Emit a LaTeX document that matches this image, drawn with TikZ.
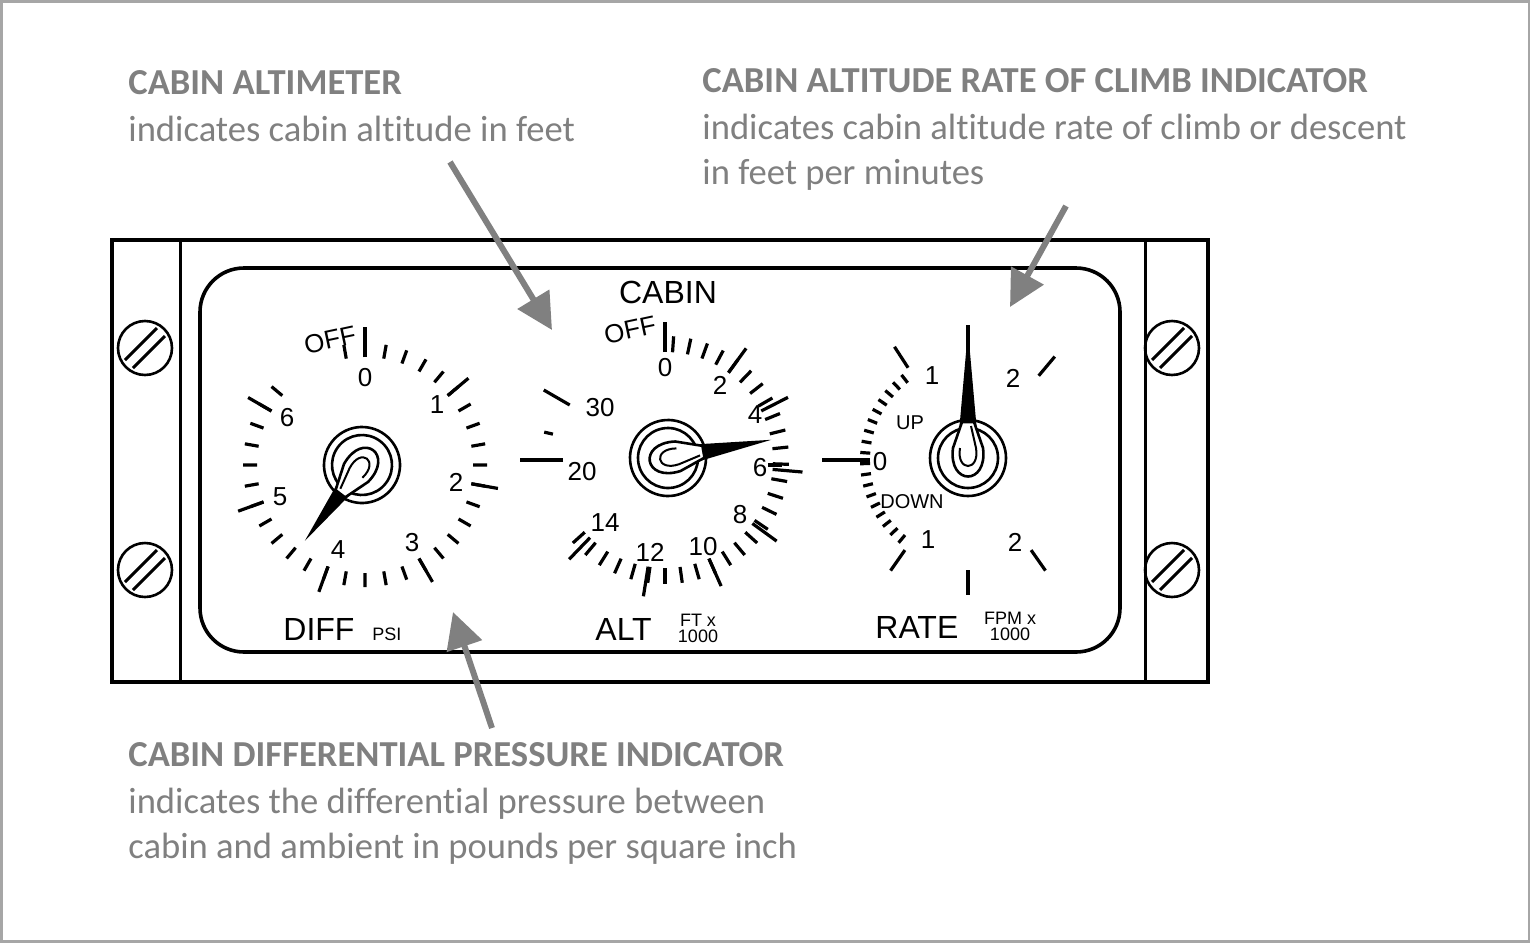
\documentclass[tikz,border=0pt]{standalone}
\usepackage{fontspec}
\setmainfont[Ligatures={NoCommon}]{Carlito}
\newfontfamily\dialfont{Liberation Sans}
\usetikzlibrary{arrows.meta}
\definecolor{notegray}{RGB}{128,128,128}
\tikzset{
  dialline/.style={line width=1.3pt},
  tick/.style={line width=1.6pt},
  numlab/.style={font=\dialfont\fontsize{13}{13}\selectfont,inner sep=0pt},
  biglab/.style={font=\dialfont\fontsize{16}{16}\selectfont,inner sep=0pt},
  smalllab/.style={font=\dialfont\fontsize{9}{9}\selectfont,inner sep=0pt,align=center},
  notehead/.style={anchor=north west,text=notegray,font=\bfseries\fontsize{18.3}{22}\selectfont,inner sep=0pt},
  notebody/.style={anchor=north west,text=notegray,font=\fontsize{18.3}{22.5}\selectfont,inner sep=0pt,align=left},
  callout/.style={draw=notegray,line width=3pt,-{Triangle[length=18pt,width=18pt]}}
}
\newcommand{\dialknob}[4]{%
  \begin{scope}[shift={(#1,#2)},rotate=#3]
    \draw[dialline,fill=white] (0,0) circle (38);
    \draw[dialline] (0,0) circle (30);
    \fill (26,-9) -- (#4,0) -- (26,9) -- cycle;
    \draw[dialline,fill=white] (10,-15) .. controls (-28,-20) and (-28,20) .. (10,15) -- (36,6) -- (36,-6) -- cycle;
    \draw[line width=1pt] (10,-8) .. controls (-14,-12) and (-14,12) .. (10,8) -- (32,3);
  \end{scope}}
\newcommand{\panelscrew}[2]{%
  \begin{scope}[shift={(#1,#2)}]
    \draw[dialline] (0,0) circle (27);
    \draw[line width=1.5pt] (-20,12) -- (12,-20) (-12,20) -- (20,-12);
  \end{scope}}
\begin{document}
\begin{tikzpicture}[x=0.5pt,y=-0.5pt]
  \useasboundingbox (0,0) rectangle (1530,942);
  \draw[notegray!70,line width=1.5pt] (1,1) rectangle (1529,941);
  % panel frame
  \draw[line width=1.8pt] (112,240) rectangle (1208,682);
  \draw[line width=1.5pt] (180,240) -- (180,682) (1145,240) -- (1145,682);
  \draw[line width=1.8pt,rounded corners=22pt] (200,268) rectangle (1120,652);
  \panelscrew{145}{348}
  \panelscrew{145}{570}
  \panelscrew{1172}{348}
  \panelscrew{1172}{570}
  % differential pressure dial
  \begin{scope}[shift={(365,465)}]
    \foreach \v in {-0.2,0,...,6.2} {
      \pgfmathsetmacro{\a}{90-50*\v}
      \draw[tick] (-\a:108) -- (-\a:122);
    }
    \foreach \v in {0,1,...,6} {
      \pgfmathsetmacro{\a}{90-50*\v}
      \draw[tick] (-\a:108) -- (-\a:135);
    }
    \draw[tick] (0,-110) -- (0,-138);
  \end{scope}
  \node[numlab] (dzero) at (365,378) {0};
  \node[numlab] (done) at (437,405) {1};
  \node[numlab] (dtwo) at (456,482) {2};
  \node[numlab] (dthree) at (412,543) {3};
  \node[numlab] (dfour) at (338,550) {4};
  \node[numlab] (dfive) at (280,497) {5};
  \node[numlab] (dsix) at (287,418) {6};
  \node[numlab,rotate=12] (doff) at (330,340) {OFF};
  \node[biglab,anchor=base west] (diff) at (283,640) {DIFF};
  \node[smalllab,anchor=base west] (psi) at (372,640) {PSI};
  \dialknob{362}{465}{-127}{95}
  % altimeter dial
  \begin{scope}[shift={(665,460)}]
    \foreach \a in {86,78,...,-142} \draw[tick] (-\a:108) -- (-\a:124);
    \foreach \a in {90,54,27,-5,-36,-66,-99,-134} \draw[tick] (-\a:108) -- (-\a:138);
    \draw[tick] (-150:110) -- (-150:140);
    \draw[tick] (-167:115) -- (-167:124);
    \draw[tick] (-180:102) -- (-180:145);
  \end{scope}
  \node[numlab] (azero) at (665,368) {0};
  \node[numlab] (atwo) at (720,385) {2};
  \node[numlab] (afour) at (755,415) {4};
  \node[numlab] (asix) at (760,468) {6};
  \node[numlab] (aeight) at (740,515) {8};
  \node[numlab] (aten) at (703,547) {10};
  \node[numlab] (atwelve) at (650,552) {12};
  \node[numlab] (afourteen) at (605,523) {14};
  \node[numlab] (atwenty) at (582,472) {20};
  \node[numlab] (athirty) at (600,408) {30};
  \node[numlab,rotate=12] (aoff) at (630,330) {OFF};
  \node[biglab] (cabin) at (668,292) {CABIN};
  \node[biglab,anchor=base west] (alt) at (595,640) {ALT};
  \node[smalllab] (ftx) at (698,628) {FT x\\[-1pt]1000};
  \draw[tick] (768,465) -- (782,465);
  \dialknob{668}{458}{10}{105}
  % rate of climb dial
  \begin{scope}[shift={(968,460)}]
    \foreach \a in {128,134,...,232} \draw[tick] (-\a:98) -- (-\a:108);
    \foreach \a in {90,123,50,-90,-125,-55} \draw[tick] (-\a:110) -- (-\a:135);
  \end{scope}
  \draw[tick] (822,460) -- (870,460);
  \node[numlab] (rzero) at (880,462) {0};
  \node[numlab] (rupone) at (932,376) {1};
  \node[numlab] (ruptwo) at (1013,378) {2};
  \node[numlab] (rdnone) at (928,540) {1};
  \node[numlab] (rdntwo) at (1015,542) {2};
  \node[smalllab,font=\dialfont\fontsize{10}{10}\selectfont] (up) at (910,423) {UP};
  \node[smalllab,font=\dialfont\fontsize{10}{10}\selectfont] (down) at (912,502) {DOWN};
  \node[biglab,anchor=base west] (rate) at (875,638) {RATE};
  \node[smalllab] (fpmx) at (1010,626) {FPM x\\[-1pt]1000};
  \dialknob{968}{458}{90}{128}
  % notes
  \node[notehead] (althead) at (128,70) {CABIN ALTIMETER};
  \node[notebody] (altbody) at (128,116) {indicates cabin altitude in feet};
  \node[notehead] (ratehead) at (702,68) {CABIN ALTITUDE RATE OF CLIMB INDICATOR};
  \node[notebody] (ratebody) at (702,114) {indicates cabin altitude rate of climb or descent\\in feet per minutes};
  \node[notehead] (diffhead) at (128,742) {CABIN DIFFERENTIAL PRESSURE INDICATOR};
  \node[notebody] (diffbody) at (128,788) {indicates the differential pressure between\\cabin and ambient in pounds per square inch};
  \coordinate (altfrom) at (450,162);
  \coordinate (altto) at (552,330);
  \coordinate (ratefrom) at (1066,206);
  \coordinate (rateto) at (1010,307);
  \coordinate (difffrom) at (492,728);
  \coordinate (diffto) at (453,612);
  \draw[callout] (altfrom) -- (altto);
  \draw[callout] (ratefrom) -- (rateto);
  \draw[callout] (difffrom) -- (diffto);
\end{tikzpicture}
\end{document}
